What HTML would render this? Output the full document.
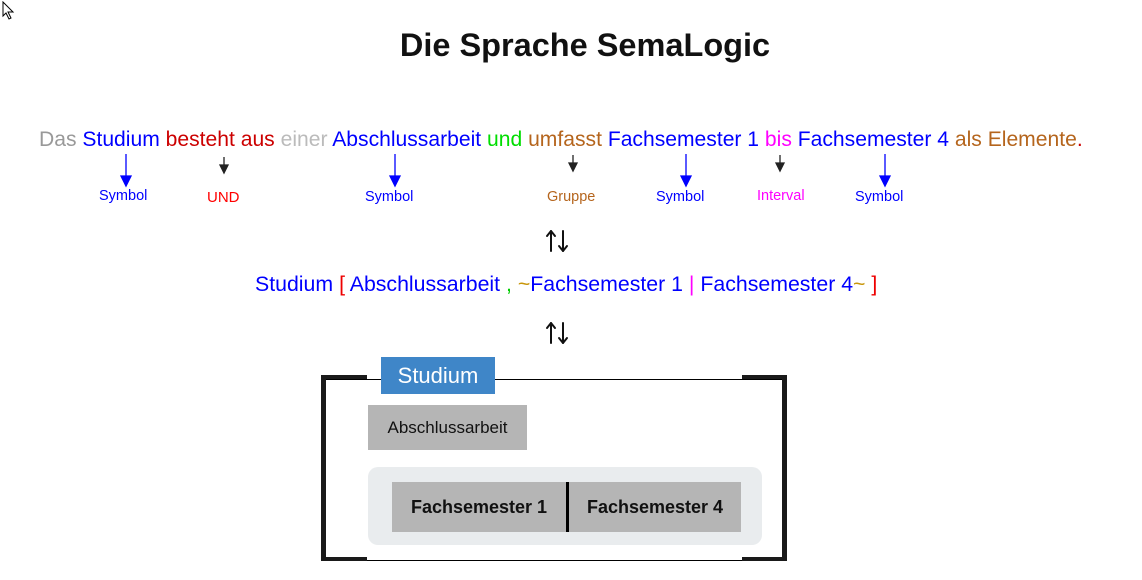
<!DOCTYPE html>
<html><head><meta charset="utf-8"><style>
body{margin:0;width:1142px;height:580px;background:#fff;position:relative;overflow:hidden;font-family:"Liberation Sans",sans-serif}
.a{position:absolute}
.t{left:0;width:1170px;text-align:center}
.lbl{position:absolute;font-size:14.5px;white-space:nowrap}
</style></head><body>
<svg class="a" style="left:2px;top:1px" width="16" height="20"><polygon points="1,1 1,15 4,12 7,18 9,17 6,11 11,11" fill="#fff" stroke="#000" stroke-width="1"/></svg>
<div class="a t" style="top:27px;font-size:32.5px;font-weight:bold;color:#111">Die Sprache SemaLogic</div>
<div class="a" style="left:39px;top:128px;font-size:21.1px;white-space:nowrap;width:1100px"><span style="color:#999">Das</span> <span style="color:#00f">Studium</span> <span style="color:#c00">besteht aus</span> <span style="color:#bbb">einer</span> <span style="color:#00f">Abschlussarbeit</span> <span style="color:#0d0">und</span> <span style="color:#b5651d">umfasst</span> <span style="color:#00f">Fachsemester 1</span> <span style="color:#f0f">bis</span> <span style="color:#00f">Fachsemester 4</span> <span style="color:#b5651d">als Elemente</span><span style="color:#c00">.</span></div>
<svg class="a" style="left:0;top:0" width="1142" height="580">
<g stroke="#00f" stroke-width="1.3" fill="#00f">
<line x1="126" y1="154" x2="126" y2="178"/><polygon points="121,176 131,176 126,186"/>
<line x1="395" y1="154" x2="395" y2="178"/><polygon points="390,176 400,176 395,186"/>
<line x1="686" y1="154" x2="686" y2="178"/><polygon points="681,176 691,176 686,186"/>
<line x1="885" y1="154" x2="885" y2="178"/><polygon points="880,176 890,176 885,186"/>
</g>
<g stroke="#222" stroke-width="1.3" fill="#222">
<line x1="224" y1="157" x2="224" y2="166"/><polygon points="220,165 228,165 224,173"/>
<line x1="573" y1="155" x2="573" y2="164"/><polygon points="569,163 577,163 573,171"/>
<line x1="780" y1="155" x2="780" y2="164"/><polygon points="776,163 784,163 780,171"/>
</g>
<g stroke="#111" stroke-width="2" fill="none" stroke-linecap="round" stroke-linejoin="round">
<line x1="551" y1="231" x2="551" y2="251"/><polyline points="547,236 551,231 555,236"/>
<line x1="563" y1="231" x2="563" y2="251"/><polyline points="559,246 563,251 567,246"/>
<line x1="551" y1="323" x2="551" y2="343"/><polyline points="547,328 551,323 555,328"/>
<line x1="563" y1="323" x2="563" y2="343"/><polyline points="559,338 563,343 567,338"/>
</g>
</svg>
<div class="lbl" style="left:99px;top:188px;color:#00f">Symbol</div>
<div class="lbl" style="left:207px;top:189px;color:#f00;font-size:15px">UND</div>
<div class="lbl" style="left:365px;top:189px;color:#00f">Symbol</div>
<div class="lbl" style="left:547px;top:189px;color:#b5651d">Gruppe</div>
<div class="lbl" style="left:656px;top:189px;color:#00f">Symbol</div>
<div class="lbl" style="left:757px;top:188px;color:#f0f">Interval</div>
<div class="lbl" style="left:855px;top:189px;color:#00f">Symbol</div>
<div class="a" style="left:255px;top:272px;font-size:21.3px;white-space:nowrap"><span style="color:#00f">Studium</span> <span style="color:#e00">[</span> <span style="color:#00f">Abschlussarbeit</span> <span style="color:#0c0">,</span> <span style="color:#c8960a">~</span><span style="color:#00f">Fachsemester 1</span> <span style="color:#f0f">|</span> <span style="color:#00f">Fachsemester 4</span><span style="color:#c8960a">~</span> <span style="color:#e00">]</span></div>
<div class="a" style="left:322px;top:379px;width:464px;height:180px;border-top:1px solid #000;border-bottom:1px solid #000"></div>
<div class="a" style="left:321px;top:375px;width:5px;height:186px;background:#1a1a1a"></div>
<div class="a" style="left:782px;top:375px;width:5px;height:186px;background:#1a1a1a"></div>
<div class="a" style="left:321px;top:375px;width:46px;height:4px;background:#1a1a1a"></div>
<div class="a" style="left:742px;top:375px;width:45px;height:4px;background:#1a1a1a"></div>
<div class="a" style="left:321px;top:557px;width:46px;height:4px;background:#1a1a1a"></div>
<div class="a" style="left:742px;top:557px;width:45px;height:4px;background:#1a1a1a"></div>
<div class="a" style="left:381px;top:357px;width:114px;height:37px;background:#3f86c8;color:#fff;font-size:22px;text-align:center;line-height:38px">Studium</div>
<div class="a" style="left:368px;top:405px;width:159px;height:45px;background:#b5b5b5;color:#111;font-size:17px;text-align:center;line-height:45px">Abschlussarbeit</div>
<div class="a" style="left:368px;top:467px;width:394px;height:78px;background:#e9ecee;border-radius:10px"></div>
<div class="a" style="left:392px;top:482px;width:174px;height:50px;background:#b5b5b5;font-weight:bold;font-size:18px;text-align:center;line-height:50px;color:#111">Fachsemester 1</div>
<div class="a" style="left:566px;top:482px;width:3px;height:50px;background:#000"></div>
<div class="a" style="left:569px;top:482px;width:172px;height:50px;background:#b5b5b5;font-weight:bold;font-size:18px;text-align:center;line-height:50px;color:#111">Fachsemester 4</div>
</body></html>
